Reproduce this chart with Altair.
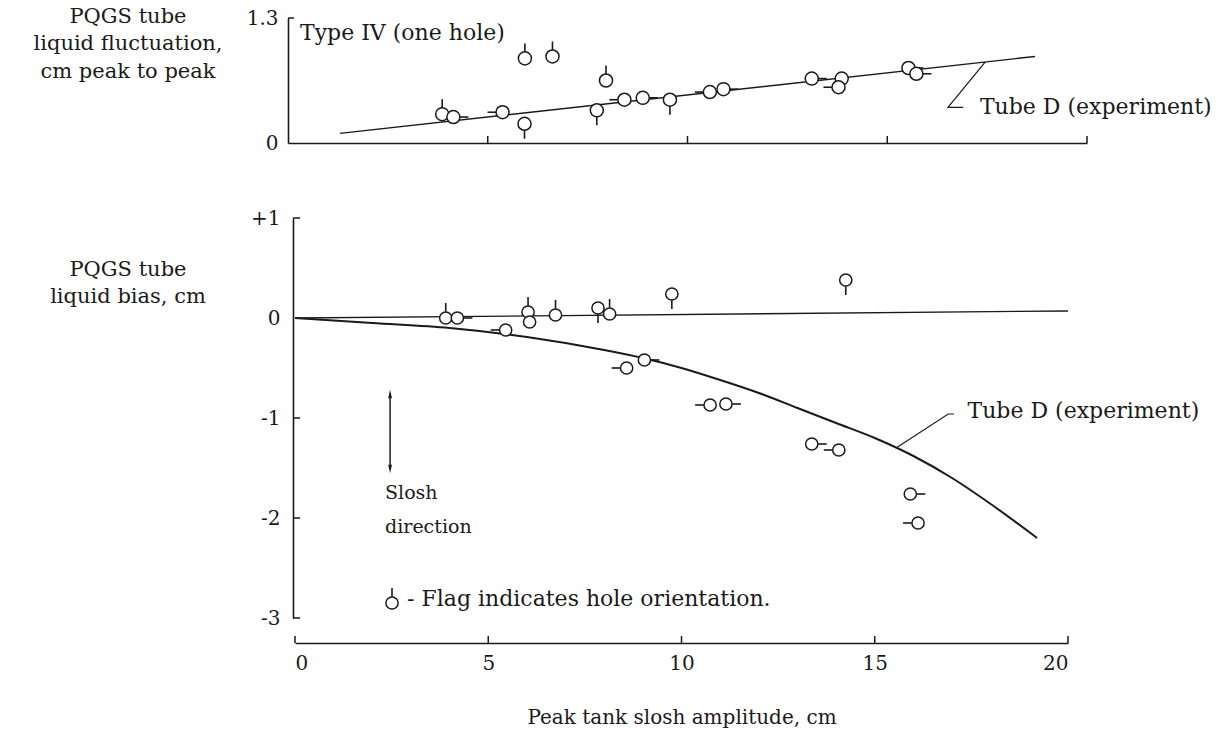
import altair as alt
import pandas as pd

# ---------------- data ----------------
# Upper panel: PQGS tube liquid fluctuation, cm peak to peak
top_x = [3.86, 4.14, 5.37, 5.93, 6.62, 5.92, 7.96, 7.73, 8.42, 8.88, 9.56,
         10.56, 10.90, 13.11, 13.86, 13.78, 15.53, 15.73]
top_y = [0.30, 0.27, 0.32, 0.88, 0.90, 0.20, 0.65, 0.34, 0.45, 0.47, 0.45,
         0.53, 0.56, 0.67, 0.67, 0.58, 0.78, 0.72]
top_flag = ["up", "right", "left", "up", "up", "down", "up", "down", "left",
            "right", "down", "left", "right", "right", "down", "left", "right", "right"]
top_fit_x = [1.3, 18.7]
top_fit_y = [0.10, 0.90]

# Lower panel: PQGS tube liquid bias, cm
bot_x = [3.90, 4.20, 5.45, 6.03, 6.07, 6.74, 7.84, 8.14, 9.75, 9.04, 8.58,
         10.74, 11.15, 13.37, 14.07, 15.92, 16.12, 14.25]
bot_y = [0.00, 0.00, -0.12, 0.06, -0.04, 0.03, 0.10, 0.04, 0.24, -0.42, -0.50,
         -0.87, -0.86, -1.26, -1.32, -1.76, -2.05, 0.38]
bot_flag = ["up", "right", "left", "up", "up", "up", "down", "up", "down", "right",
            "left", "left", "right", "right", "left", "right", "left", "down"]
curve_x = [0, 2, 4, 6, 8, 9, 10, 11, 12, 13, 14, 15, 16, 17, 18, 19.2]
curve_y = [0, -0.05, -0.10, -0.19, -0.32, -0.40, -0.50, -0.62, -0.75, -0.90,
           -1.05, -1.20, -1.38, -1.60, -1.86, -2.20]
flat_x = [0, 20]
flat_y = [0, 0.07]

x_ticks = [0, 5, 10, 15, 20]
top_y_ticks = [0, 1.3]
bot_y_ticks = [1, 0, -1, -2, -3]

# annotations (data units)
top_note_x = [0.3, 17.32]
top_note_y = [1.14, 0.37]
top_note_t = ["Type IV (one hole)", "Tube D (experiment)"]
top_leader_x = [17.45, 16.52, 16.9]
top_leader_y = [0.84, 0.37, 0.37]

bot_note_x = [17.4, 2.9]
bot_note_y = [-0.93, -2.81]
bot_note_t = ["Tube D (experiment)", "- Flag indicates hole orientation."]
slosh_x = [2.33, 2.33]
slosh_y = [-1.75, -2.09]
slosh_t = ["Slosh", "direction"]
bot_leader_x = [15.59, 16.9, 17.05]
bot_leader_y = [-1.29, -0.96, -0.96]
arrow_x = [2.46]
arrow_top = [-0.76]
arrow_bot = [-1.51]
legend_x = [2.51]
legend_y = [-2.85]
legend_flag = ["up"]

top_left_title = ["PQGS tube", "liquid fluctuation,", "cm peak to peak"]
bot_left_title = ["PQGS tube", "liquid bias, cm"]

# ---------------- styling ----------------
FONT = "DejaVu Serif"
INK = "#1a1a1a"
FS = 20
FS_NOTE = 22
flag_names = ["up", "down", "left", "right"]
flag_paths = ["M0,-0.42L0,-1", "M0,0.42L0,1", "M-0.42,0L-1,0", "M0.42,0L1,0"]

TOP_W, TOP_H = 799, 125
BOT_W, BOT_H = 780, 400

top_df = pd.DataFrame({"x": top_x, "y": top_y, "flag": top_flag})
bot_df = pd.DataFrame({"x": bot_x, "y": bot_y, "flag": bot_flag})

X_top = alt.X("x:Q", scale=alt.Scale(domain=[0, 20], nice=False, zero=False),
              axis=alt.Axis(labels=False, ticks=False, grid=False, title=None,
                            domain=True))
Y_top = alt.Y("y:Q", scale=alt.Scale(domain=[0, 1.3], nice=False, zero=False),
              axis=alt.Axis(values=top_y_ticks, ticks=False, grid=False,
                            title=None, labelPadding=10,
                            labelExpr="format(datum.value, '.1~f')"))
X_bot = alt.X("x:Q", scale=alt.Scale(domain=[0, 20], nice=False, zero=False, range=[7, 780]),
              axis=alt.Axis(values=x_ticks, format="~g", ticks=False, grid=False,
                            offset=25, labelPadding=10,
                            title="Peak tank slosh amplitude, cm", titlePadding=34))
Y_bot = alt.Y("y:Q", scale=alt.Scale(domain=[-3, 1], nice=False, zero=False),
              axis=alt.Axis(values=bot_y_ticks, ticks=False, grid=False, title=None,
                            offset=-5, labelPadding=13,
                            labelExpr="datum.value > 0 ? '+' + datum.value : '' + datum.value"))


def marker_layers(df, X, Y, csize=150, fsize=900):
    base = alt.Chart(df)
    flags = base.mark_point(filled=False, stroke=INK, strokeWidth=1.6, opacity=1,
                            size=fsize).encode(
        x=X, y=Y,
        shape=alt.Shape("flag:N", scale=alt.Scale(domain=flag_names, range=flag_paths),
                        legend=None))
    circles = base.mark_point(shape="circle", filled=True, fill="white", stroke=INK,
                              strokeWidth=1.5, opacity=1, size=csize).encode(x=X, y=Y)
    return [flags, circles]


def left_title(lines, ys):
    out = []
    for line, yy in zip(lines, ys):
        out.append(alt.Chart(pd.DataFrame({"t": [line]})).mark_text(
            font=FONT, fontSize=21, color=INK, align="center", baseline="middle").encode(
            x=alt.value(-160), y=alt.value(yy), text="t:N"))
    return out


def anchor(px, py):
    return alt.Chart(pd.DataFrame({"a": [0]})).mark_point(
        size=4, shape="square", filled=True, opacity=0).encode(x=alt.value(px), y=alt.value(py))


# ---------------- upper panel ----------------
t_fit = alt.Chart(pd.DataFrame({"x": top_fit_x, "y": top_fit_y})).mark_line(
    color=INK, strokeWidth=1.4).encode(x=X_top, y=Y_top)
t_leader = alt.Chart(pd.DataFrame({"x": top_leader_x, "y": top_leader_y,
                                   "o": list(range(len(top_leader_x)))})).mark_line(
    color=INK, strokeWidth=1.2).encode(x=X_top, y=Y_top, order="o:Q")
t_notes = alt.Chart(pd.DataFrame({"x": top_note_x, "y": top_note_y, "t": top_note_t})).mark_text(
    font=FONT, fontSize=FS_NOTE, color=INK, align="left", baseline="middle").encode(
    x=X_top, y=Y_top, text="t:N")
t_xticks = alt.Chart(pd.DataFrame({"x": x_ticks[1:]})).mark_rule(
    color=INK, strokeWidth=1.5).encode(x=X_top, y=alt.value(TOP_H), y2=alt.value(TOP_H - 7))
t_yticks = alt.Chart(pd.DataFrame({"y": [top_y_ticks[-1]]})).mark_rule(
    color=INK, strokeWidth=1.5).encode(y=Y_top, x=alt.value(0), x2=alt.value(6))

top = alt.layer(
    t_fit, t_leader, t_xticks, t_yticks, *marker_layers(top_df, X_top, Y_top, csize=170),
    t_notes, *left_title(top_left_title, [-1, 26, 54]), anchor(-287, -17)
).properties(width=TOP_W, height=TOP_H)

# ---------------- lower panel ----------------
b_flat = alt.Chart(pd.DataFrame({"x": flat_x, "y": flat_y})).mark_line(
    color=INK, strokeWidth=1.3).encode(x=X_bot, y=Y_bot)
b_curve = alt.Chart(pd.DataFrame({"x": curve_x, "y": curve_y})).mark_line(
    color=INK, strokeWidth=2, interpolate="monotone").encode(x=X_bot, y=Y_bot)
b_leader = alt.Chart(pd.DataFrame({"x": bot_leader_x, "y": bot_leader_y,
                                   "o": list(range(len(bot_leader_x)))})).mark_line(
    color=INK, strokeWidth=1.2).encode(x=X_bot, y=Y_bot, order="o:Q")
b_notes = alt.Chart(pd.DataFrame({"x": bot_note_x, "y": bot_note_y, "t": bot_note_t})).mark_text(
    font=FONT, fontSize=FS_NOTE, color=INK, align="left", baseline="middle").encode(
    x=X_bot, y=Y_bot, text="t:N")
b_slosh = alt.Chart(pd.DataFrame({"x": slosh_x, "y": slosh_y, "t": slosh_t})).mark_text(
    font=FONT, fontSize=19, color=INK, align="left", baseline="middle").encode(
    x=X_bot, y=Y_bot, text="t:N")
arrow_df = pd.DataFrame({"x": arrow_x, "y": arrow_top, "y2": arrow_bot})
b_arrow = alt.Chart(arrow_df).mark_rule(color=INK, strokeWidth=1.5).encode(
    x=X_bot, y=Y_bot, y2="y2:Q")
b_head_up = alt.Chart(arrow_df).mark_point(shape="M0,-1L0.45,1L-0.45,1Z", filled=True,
                                           color=INK, opacity=1, size=70).encode(x=X_bot, y=Y_bot)
b_head_dn = alt.Chart(arrow_df).mark_point(shape="M0,1L0.45,-1L-0.45,-1Z", filled=True,
                                           color=INK, opacity=1, size=70).encode(
    x=X_bot, y=alt.Y("y2:Q", scale=alt.Scale(domain=[-3, 1], nice=False, zero=False)))
legend_df = pd.DataFrame({"x": legend_x, "y": legend_y, "flag": legend_flag})
b_xticks = alt.Chart(pd.DataFrame({"x": x_ticks})).mark_rule(
    color=INK, strokeWidth=1.5).encode(x=X_bot, y=alt.value(BOT_H + 25), y2=alt.value(BOT_H + 18))
b_yticks = alt.Chart(pd.DataFrame({"y": [1, -1, -2, -3]})).mark_rule(
    color=INK, strokeWidth=1.5).encode(y=Y_bot, x=alt.value(5), x2=alt.value(12))

bottom = alt.layer(
    b_flat, b_curve, b_leader, b_arrow, b_head_up, b_head_dn, b_xticks, b_yticks,
    *marker_layers(bot_df, X_bot, Y_bot, csize=150),
    *marker_layers(legend_df, X_bot, Y_bot, csize=150),
    b_notes, b_slosh, *left_title(bot_left_title, [52, 79]), anchor(930, 512)
).properties(width=BOT_W, height=BOT_H)

chart = alt.vconcat(top, bottom, spacing=75, bounds="flush").properties(
    padding=0, autosize=alt.AutoSizeParams(type="pad")
).configure_view(stroke=None).configure_axis(
    domainColor=INK, domainWidth=1.6, labelFont=FONT, labelFontSize=FS, labelColor=INK,
    titleFont=FONT, titleFontSize=FS, titleFontWeight="normal", titleColor=INK,
    labelAngle=0
).configure_text(font=FONT)

chart.save("out.html", embed_options={"renderer": "svg", "actions": False})
